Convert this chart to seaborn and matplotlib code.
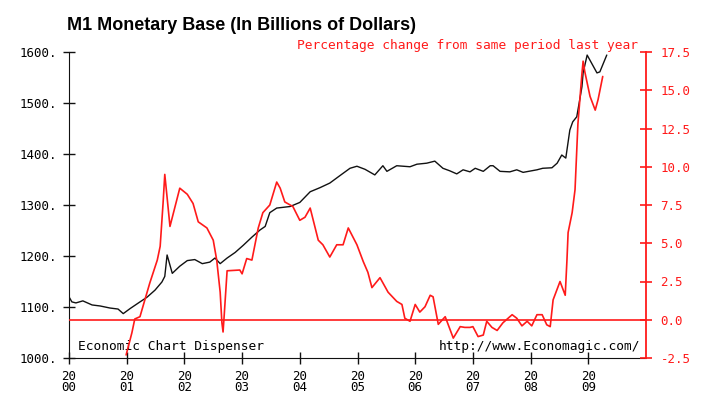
import matplotlib
matplotlib.use("Agg")
import numpy as np
import pandas as pd
import matplotlib.pyplot as plt
import seaborn as sns

# M1 monetary base, billions of dollars (x in decimal years)
base_years = [2000.00, 2000.05, 2000.12, 2000.24, 2000.40, 2000.54, 2000.71, 2000.85, 2000.94,
              2001.06, 2001.23, 2001.35, 2001.49, 2001.61, 2001.66, 2001.70, 2001.79, 2001.92,
              2002.05, 2002.18, 2002.31, 2002.44, 2002.53, 2002.62, 2002.74, 2002.88,
              2003.02, 2003.17, 2003.31, 2003.40, 2003.48, 2003.60, 2003.83,
              2004.00, 2004.18, 2004.35, 2004.52, 2004.70, 2004.87, 2004.99,
              2005.13, 2005.30, 2005.44, 2005.51, 2005.68, 2005.91,
              2006.03, 2006.20, 2006.34, 2006.48, 2006.60, 2006.72, 2006.83, 2006.95,
              2007.04, 2007.18, 2007.30, 2007.35, 2007.47, 2007.64, 2007.76, 2007.87,
              2008.11, 2008.21, 2008.37, 2008.46, 2008.54, 2008.61, 2008.68, 2008.73,
              2008.80, 2008.86, 2008.89, 2008.91, 2008.98, 2009.15, 2009.20, 2009.32]
base_vals = [1120, 1110, 1108, 1112, 1104, 1102, 1098, 1096, 1087,
             1097, 1110, 1119, 1133, 1149, 1160, 1202, 1166, 1180,
             1191, 1193, 1185, 1188, 1196, 1185, 1196, 1207,
             1221, 1237, 1251, 1258, 1285, 1294, 1297,
             1305, 1326, 1334, 1343, 1358, 1372, 1376,
             1370, 1359, 1377, 1366, 1377, 1375,
             1380, 1382, 1386, 1372, 1367, 1361, 1369, 1365,
             1372, 1366, 1377, 1377, 1366, 1365, 1369, 1364,
             1369, 1372, 1373, 1382, 1398, 1392, 1447, 1463,
             1473, 1512, 1532, 1559, 1594, 1559, 1561, 1594]

# Percentage change from same period last year
pct_years = [2000.99, 2001.09, 2001.14, 2001.23, 2001.28, 2001.40, 2001.53, 2001.58, 2001.63,
             2001.66, 2001.70, 2001.75, 2001.92, 2002.05, 2002.15, 2002.24, 2002.39, 2002.50,
             2002.56, 2002.62, 2002.65, 2002.67, 2002.69, 2002.74, 2002.96, 2003.00, 2003.08,
             2003.17, 2003.28, 2003.36, 2003.48, 2003.60, 2003.66, 2003.74, 2003.88, 2004.00,
             2004.09, 2004.18, 2004.32, 2004.40, 2004.52, 2004.64, 2004.75, 2004.84, 2004.99,
             2005.10, 2005.18, 2005.25, 2005.39, 2005.53, 2005.68, 2005.77, 2005.82, 2005.91,
             2006.00, 2006.08, 2006.17, 2006.26, 2006.31, 2006.40, 2006.52, 2006.66, 2006.78,
             2006.86, 2006.95, 2007.00, 2007.09, 2007.18, 2007.24, 2007.33, 2007.42, 2007.52,
             2007.68, 2007.76, 2007.85, 2007.94, 2008.02, 2008.11, 2008.20, 2008.28, 2008.34,
             2008.39, 2008.51, 2008.60, 2008.63, 2008.65, 2008.72, 2008.77, 2008.82, 2008.89,
             2008.91, 2008.94, 2009.03, 2009.12, 2009.17, 2009.25]
pct_vals = [-2.3, -0.85, 0.05, 0.2, 0.85, 2.4, 3.9, 4.8, 7.6,
            9.5, 8.0, 6.1, 8.6, 8.2, 7.6, 6.4, 6.0, 5.2,
            3.9, 1.8, -0.2, -0.8, 0.3, 3.2, 3.25, 3.0, 4.0,
            3.9, 6.0, 7.0, 7.5, 9.0, 8.6, 7.7, 7.4, 6.5,
            6.7, 7.3, 5.2, 4.9, 4.1, 4.9, 4.9, 6.0, 4.9,
            3.8, 3.1, 2.1, 2.75, 1.8, 1.2, 1.0, 0.1, -0.1,
            1.0, 0.5, 0.85, 1.6, 1.5, -0.3, 0.2, -1.2, -0.45,
            -0.5, -0.5, -0.45, -1.1, -1.0, -0.1, -0.5, -0.7, -0.2,
            0.33, 0.1, -0.4, -0.1, -0.4, 0.33, 0.33, -0.33, -0.45,
            1.3, 2.5, 1.6, 3.9, 5.7, 7.0, 8.5, 12.8, 16.1,
            16.9, 16.2, 14.6, 13.7, 14.4, 15.9]

year_ticks = list(range(2000, 2010))
base_ticks = [1000, 1100, 1200, 1300, 1400, 1500, 1600]
pct_ticks = [-2.5, 0.0, 2.5, 5.0, 7.5, 10.0, 12.5, 15.0, 17.5]

base_df = pd.DataFrame({"year": base_years, "base": base_vals})
pct_df = pd.DataFrame({"year": pct_years, "pct": pct_vals})

sns.set_style("white")
plt.rcParams["font.family"] = ["DejaVu Sans Mono"]

RED = "#ff1a1a"
INK = "#111111"

fig = plt.figure(figsize=(7.06, 3.99), dpi=100)
ax = fig.add_axes([69 / 706, 1 - 358 / 399, 577 / 706, 306 / 399])
ax2 = ax.twinx()

sns.lineplot(data=base_df, x="year", y="base", color=INK, lw=1.0,
             estimator=None, sort=False, ax=ax)
ax2.axhline(0, color=RED, lw=1.2)
sns.lineplot(data=pct_df, x="year", y="pct", color=RED, lw=1.2,
             estimator=None, sort=False, ax=ax2)

ax.set_xlim(2000, 2010)
ax.set_ylim(1000, 1600)
ax2.set_ylim(-2.5, 17.5)

ax.set_xticks(year_ticks)
ax.set_xticklabels([f"20\n{y % 100:02d}" for y in year_ticks], linespacing=0.85)
ax.set_yticks(base_ticks)
ax.set_yticklabels([f"{v}." for v in base_ticks])
ax2.set_yticks(pct_ticks)
ax2.set_yticklabels([f"{v:.1f}" for v in pct_ticks])

for a in (ax, ax2):
    a.set_xlabel("")
    a.set_ylabel("")
    a.grid(False)
    a.spines["top"].set_visible(False)
ax.spines["right"].set_visible(False)
ax2.spines["left"].set_visible(False)
ax2.spines["bottom"].set_visible(False)
ax.spines["left"].set_color(INK)
ax.spines["bottom"].set_color(INK)
ax.spines["bottom"].set_linestyle((0, (1, 1)))
ax2.spines["right"].set_color(RED)
ax2.spines["right"].set_linewidth(1.3)

ax.tick_params(axis="both", direction="inout", length=9, width=1, color=INK,
               labelcolor="black", labelsize=9, pad=4, left=True, bottom=True)
ax2.tick_params(axis="y", direction="inout", length=9, width=1.2, color=RED,
                labelcolor=RED, labelsize=9, pad=6, right=True)

fig.text(67 / 706, 1 - 26 / 399, "M1 Monetary Base (In Billions of Dollars)",
         fontsize=13, fontweight="bold", va="center", ha="left", color="black",
         family=["Liberation Sans", "DejaVu Sans"])
fig.text(638 / 706, 1 - 46 / 399, "Percentage change from same period last year",
         fontsize=9.3, color=RED, ha="right", va="center")
ax.text(0.016, 0.036, "Economic Chart Dispenser", transform=ax.transAxes,
        fontsize=9.3, ha="left", va="center", color="black")
ax.text(0.99, 0.036, "http://www.Economagic.com/", transform=ax.transAxes,
        fontsize=9.3, ha="right", va="center", color="black")

fig.savefig("out.png", dpi=100)
